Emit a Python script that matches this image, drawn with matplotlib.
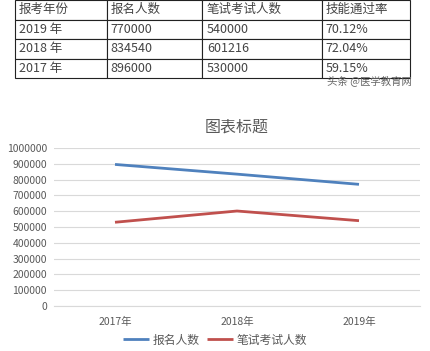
import matplotlib
matplotlib.use("Agg")
import matplotlib.pyplot as plt

plt.rcParams['font.family'] = ['Noto Sans CJK SC', 'DejaVu Sans']

# table data
table_header = ["报考年份", "报名人数", "笔试考试人数", "技能通过率"]
table_years = ["2019 年", "2018 年", "2017 年"]
table_signup = ["770000", "834540", "896000"]
table_written = ["540000", "601216", "530000"]
table_pass = ["70.12%", "72.04%", "59.15%"]

# chart data
years = ["2017年", "2018年", "2019年"]
signup = [896000, 834540, 770000]
written = [530000, 601216, 540000]
yticks = [0, 100000, 200000, 300000, 400000, 500000, 600000, 700000, 800000, 900000, 1000000]

fig = plt.figure(figsize=(4.3, 3.51), dpi=100)
W, H = 430, 351

# table
tax = fig.add_axes([15 / W, (H - 78) / H, 395 / W, 78 / H])
tax.axis("off")
rows = [list(r) for r in zip(table_years, table_signup, table_written, table_pass)]
tbl = tax.table(cellText=rows, colLabels=table_header, cellLoc="left", colLoc="left",
                colWidths=[92, 95, 120, 88], bbox=[0, 0, 1, 1])
tbl.auto_set_font_size(False)
for (r, c), cell in tbl.get_celld().items():
    cell.set_edgecolor("#222222")
    cell.set_linewidth(0.8)
    cell.set_facecolor("white")
    cell.get_text().set_fontsize(9)
    cell.get_text().set_color("#444444")
    cell.PAD = 0.04

fig.text(412 / W, 1 - 81 / H, "头条 @医学教育网", ha="right", va="center",
         fontsize=7.5, color="#666666")

# chart
ax = fig.add_axes([54 / W, 45 / H, 366 / W, 158 / H])
x = range(len(years))
ax.plot(x, signup, color="#4F81BD", lw=2.0, label="报名人数", solid_capstyle="butt")
ax.plot(x, written, color="#C0504D", lw=2.0, label="笔试考试人数", solid_capstyle="butt")
ax.set_xlim(-0.5, 2.5)
ax.set_ylim(0, 1000000)
ax.set_yticks(yticks)
ax.set_yticklabels([str(v) for v in yticks])
ax.set_xticks(list(x))
ax.set_xticklabels(years)
ax.grid(axis="y", color="#D9D9D9", lw=0.8)
ax.set_axisbelow(True)
for s in ["top", "right", "left"]:
    ax.spines[s].set_visible(False)
ax.spines["bottom"].set_color("#D9D9D9")
ax.tick_params(length=0, labelsize=7.5, colors="#595959", pad=5)
ax.tick_params(axis="x", pad=8)
ax.set_title("图表标题", fontsize=11.5, color="#595959", pad=12)

fig.legend(loc="center", bbox_to_anchor=(215 / W, 1 - 340 / H), ncol=2,
           frameon=False, fontsize=8.5, labelcolor="#595959",
           handlelength=2.2, handletextpad=0.3, columnspacing=0.6)

fig.savefig("out.png", dpi=100)
